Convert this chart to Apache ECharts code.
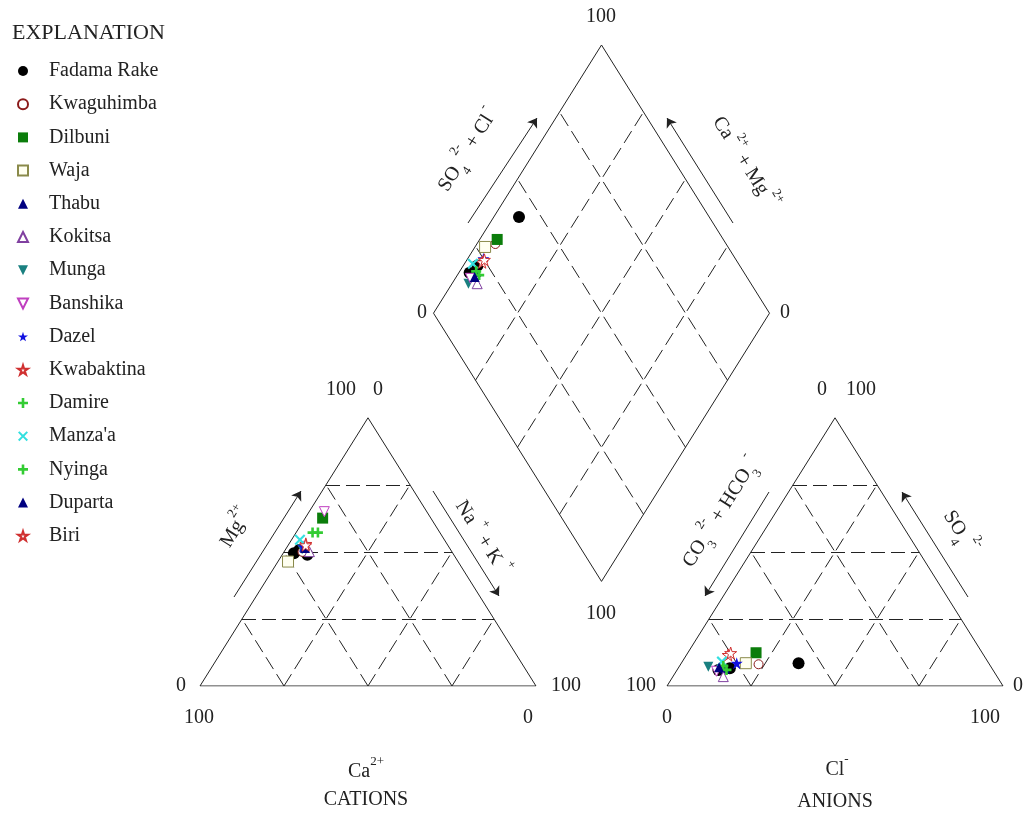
<!DOCTYPE html>
<html><head><meta charset="utf-8">
<script src="https://cdn.jsdelivr.net/npm/echarts@6/dist/echarts.min.js"></script>
<style>html,body{margin:0;padding:0;background:#fff}#c{width:1025px;height:814px}</style>
</head><body><div id="c"></div>
<script>
// ---------------- data (percent of meq/L) ----------------
const sites = ['Fadama Rake','Kwaguhimba','Dilbuni','Waja','Thabu','Kokitsa','Munga','Banshika','Dazel','Kwabaktina','Damire',"Manza'a",'Nyinga','Duparta','Biri'];
const mgPct  = [[48.9,50.7,49.5],[50.0],[62.6],[46.4],[52.0],[50.1],[51.0],[65.0],[52.0],[53.0],[57.2],[54.5],[57.2],[51.5],[52.5]];
const naKPct = [[7.5,4.2,3.2],[5.5],[5.2],[3.0],[5.0],[7.5],[4.9],[4.5],[4.7],[5.0],[6.5],[2.5],[4.9],[5.5],[5.2]];
const so4Pct = [[8.5,6.6,6.0],[8.1],[12.4],[8.5],[6.5],[3.5],[7.2],[5.5],[8.5],[11.6],[6.0],[9.1],[7.5],[7.0],[12.3]];
const clPct  = [[34.9,15.4,12.3],[23.2],[20.3],[19.2],[14.0],[15.0],[8.7],[12.0],[16.5],[12.4],[14.7],[11.8],[13.0],[12.0],[12.8]];
const gridSteps = [25, 50, 75];
const tickLabels = { low: '0', high: '100' };

// ---------------- geometry (diagram units) ----------------
const GAP = 39;                 // gap between triangles
const AX0 = 100 + GAP;          // anion triangle left corner
const DB = [100 + GAP / 2, GAP]; // diamond bottom vertex
const cat = (mg, nak) => [nak + mg / 2, mg];
const ani = (so4, cl) => [AX0 + cl + so4 / 2, so4];
const dia = (c, a) => [DB[0] + (a - c) / 2, DB[1] + a + c];

// pixel <-> data (grid: left 200, bottom 128, 239 units each way)
const GL = 200, GR = 22, GT = 45, GB = 128, W = 1025, H = 814;
const SX = (W - GL - GR) / 239, SY = (H - GT - GB) / 239;
const p2d = (px, py) => [(px - GL) / SX, (H - GB - py) / SY];

// ---------------- styles ----------------
const plusPath = 'path://M37,0H63V37H100V63H63V100H37V63H0V37H37Z';
const xPath = 'path://M0,14L14,0L50,36L86,0L100,14L64,50L100,86L86,100L50,64L14,100L0,86L36,50Z';
const starPath = 'path://M50,0L61,35L98,35L68,57L79,91L50,70L21,91L32,57L2,35L39,35Z';
const downTri = 'path://M0,0L100,0L50,100Z';
const styles = [
  {symbol:'circle', size:12, color:'#000'},
  {symbol:'circle', size:9, color:'#fff', border:'#8b1a1a'},
  {symbol:'rect', size:11, color:'#0b7d0b'},
  {symbol:'rect', size:11, color:'#fffff0', border:'#8a8a4a'},
  {symbol:'triangle', size:10, color:'#000080'},
  {symbol:'triangle', size:10, color:'#fff', border:'#8040a0'},
  {symbol:downTri, size:10, color:'#1a8080'},
  {symbol:downTri, size:10, color:'#fff', border:'#c040c0'},
  {symbol:starPath, size:12, color:'#1010e0'},
  {symbol:starPath, size:12, color:'#fff', border:'#d03030'},
  {symbol:plusPath, size:10, color:'#33cc33'},
  {symbol:xPath, size:11, color:'#33e0e0'},
  {symbol:plusPath, size:10, color:'#33cc33'},
  {symbol:'triangle', size:10, color:'#000080'},
  {symbol:starPath, size:12, color:'#fff', border:'#d03030'}
];

// ---------------- frame lines ----------------
const solid = [], dashed = [];
function tri(ox) {
  solid.push({coords: [[ox,0],[ox+100,0],[ox+50,100],[ox,0]]});
  gridSteps.forEach(k => {
    dashed.push({coords: [[ox + k/2, k], [ox + 100 - k/2, k]]});
    dashed.push({coords: [[ox + k, 0], [ox + k + (100-k)/2, 100-k]]});
    dashed.push({coords: [[ox + 100 - k, 0], [ox + (100-k)/2, 100-k]]});
  });
}
tri(0); tri(AX0);
solid.push({coords: [dia(0,0), dia(100,0), dia(100,100), dia(0,100), dia(0,0)]});
gridSteps.forEach(k => {
  dashed.push({coords: [dia(k,0), dia(k,100)]});
  dashed.push({coords: [dia(0,k), dia(100,k)]});
});

const arrowsPx = [
  [[234,597],[301,491]], [[433,491],[499,596]], [[435,701],[300,701]],
  [[769,492],[705,596]], [[968,597],[902,492]], [[768,701],[903,701]],
  [[468,223],[537,118]], [[733,223],[667,118]]
];

const series = [
  {type:'lines', coordinateSystem:'cartesian2d', polyline:true, silent:true, z:1,
   lineStyle:{color:'#222', width:1, opacity:1}, data: solid},
  {type:'lines', coordinateSystem:'cartesian2d', silent:true, z:1,
   lineStyle:{color:'#222', width:1, opacity:1, type:[14,6]}, data: dashed},
  {type:'lines', coordinateSystem:'cartesian2d', silent:true, z:1,
   symbol:['none','arrow'], symbolSize:9,
   lineStyle:{color:'#222', width:1, opacity:1},
   data: arrowsPx.map(a => ({coords: [p2d(a[0][0],a[0][1]), p2d(a[1][0],a[1][1])]}))}
];

sites.forEach((name, i) => {
  const st = styles[i];
  const pts = [];
  mgPct[i].forEach((mg, j) => {
    const nak = naKPct[i][j], so4 = so4Pct[i][j], cl = clPct[i][j];
    pts.push(cat(mg, nak));
    pts.push(ani(so4, cl));
    pts.push(dia(100 - nak, so4 + cl));
  });
  series.push({
    type:'scatter', name, symbol: st.symbol, symbolSize: st.size, z: 10 + i,
    itemStyle: {color: st.color, borderColor: st.border || st.color, borderWidth: st.border ? 1 : 0, opacity: 1},
    data: pts
  });
});

// ---------------- texts ----------------
const rich = {
  sup: {fontSize: 13, fontFamily: 'Liberation Serif', lineHeight: 18, verticalAlign: 'top', fill: '#222'},
  sub: {fontSize: 13, fontFamily: 'Liberation Serif', lineHeight: 20, verticalAlign: 'bottom', fill: '#222'}
};
function T(x, y, text, rot) {
  return {type:'text', x, y, rotation: (rot || 0) * Math.PI / 180, silent: true,
    style: {text, fontSize: 20, fontFamily: 'Liberation Serif', fill: '#222', lineHeight: 34,
      align:'center', verticalAlign:'middle', textAlign:'center', textVerticalAlign:'middle', rich}};
}
const R = 57.9;
const texts = [
  // cation triangle
  T(341,390,tickLabels.high), T(378,390,tickLabels.low),
  T(181,686,tickLabels.low), T(566,686,tickLabels.high),
  T(199,718,tickLabels.high), T(528,718,tickLabels.low),
  T(236,528,'Mg{sup|2+}', R),
  T(482,538,'Na {sup|+} + K {sup|+}', -R),
  T(366,772,'Ca{sup|2+}'), T(366,800,'CATIONS'),
  // anion triangle
  T(822,390,tickLabels.low), T(861,390,tickLabels.high),
  T(641,686,tickLabels.high), T(1018,686,tickLabels.low),
  T(667,718,tickLabels.low), T(985,718,tickLabels.high),
  T(721,512,'CO{sub|3}{sup| 2-} + HCO{sub|3}{sup| -}', R),
  T(960,532,'SO{sub|4}{sup| 2-}', -R),
  T(837,770,'Cl{sup|-}'), T(835,802,'ANIONS'),
  // diamond
  T(601,17,tickLabels.high), T(422,313,tickLabels.low), T(785,313,tickLabels.low), T(601,614,tickLabels.high),
  T(468,150,'SO{sub|4}{sup| 2-} + Cl{sup| -}', R),
  T(745,163,'Ca{sup| 2+} + Mg{sup| 2+}', -R)
];

const chart = echarts.init(document.getElementById('c'), null, {renderer:'canvas'});
chart.setOption({
  animation: false,
  backgroundColor: '#fff',
  title: {text:'EXPLANATION', left: 12, top: 22, padding: 0,
    textStyle: {fontFamily:'Liberation Serif', fontSize: 22, fontWeight:'normal', color:'#222'}},
  legend: {data: sites, orient:'vertical', left: 17, top: 61, padding: 0,
    itemWidth: 10, itemHeight: 10, itemGap: 13.2, selectedMode: false,
    textStyle: {fontFamily:'Liberation Serif', fontSize: 20, color:'#222', lineHeight: 20, padding:[0,0,0,16]}},
  grid: {left: GL, right: GR, top: GT, bottom: GB},
  xAxis: {type:'value', min: 0, max: 239, show: false},
  yAxis: {type:'value', min: 0, max: 239, show: false},
  series,
  graphic: texts
});
</script></body></html>
